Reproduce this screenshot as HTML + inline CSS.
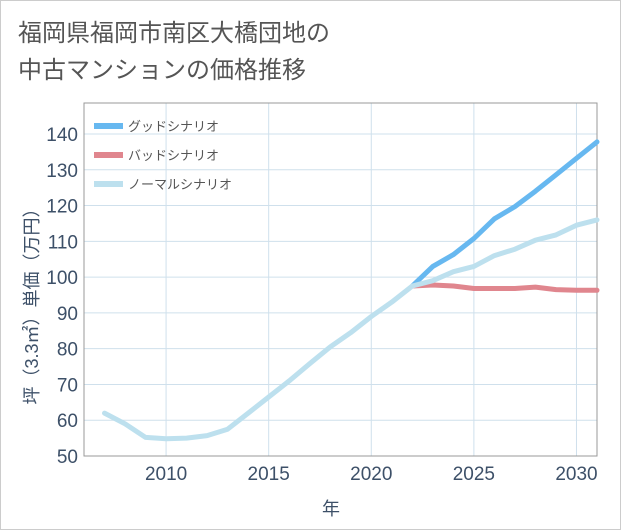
<!DOCTYPE html>
<html><head><meta charset="utf-8"><style>
body{margin:0;background:#fff;font-family:"Liberation Sans","Noto Sans CJK JP",sans-serif}
#wrap{position:relative;width:619px;height:528px;border:1px solid #ccc;background:#fff}
</style></head><body>
<div id="wrap">
<svg id="c" width="621" height="530" style="position:absolute;left:-1px;top:-1px"></svg>
</div>
<script>
const years=[2007,2008,2009,2010,2011,2012,2013,2014,2015,2016,2017,2018,2019,2020,2021,2022,2023,2024,2025,2026,2027,2028,2029,2030,2031];
const normal=[62,59,55.2,54.8,55,55.7,57.5,62,66.5,71,75.8,80.5,84.5,89,93,97.5,99,101.5,103,106,107.8,110.3,111.8,114.5,116];
const fYears=[2022,2023,2024,2025,2026,2027,2028,2029,2030,2031];
const good=[97.5,103,106.3,110.8,116.3,119.7,124,128.6,133.2,137.8];
const bad=[97.5,97.8,97.5,96.8,96.8,96.8,97.2,96.5,96.3,96.3];
const yTicks=[50,60,70,80,90,100,110,120,130,140];
const xTicks=[2010,2015,2020,2025,2030];
const L=84,R=597,T=103,B=456;
const x=v=>L+(v-2006)*(R-L)/25;
const y=v=>B-(v-50)*3.578;
const s=document.getElementById('c');const NS='http://www.w3.org/2000/svg';
function mk(t,a,txt){const e=document.createElementNS(NS,t);for(const k in a)e.setAttribute(k,a[k]);if(txt!=null)e.textContent=txt;s.appendChild(e);return e;}
function txt(x0,y0,t,sz,anc,name,extra){const e=mk('text',Object.assign({x:x0,y:y0,'font-size':sz,fill:'#555','text-anchor':anc||'start'},extra||{}),t);return e;}
txt(18,41,'福岡県福岡市南区大橋団地の',24,'start','title-line1');
txt(18,78,'中古マンションの価格推移',24,'start','title-line2');
yTicks.forEach(v=>{const l=mk('line',{x1:L,x2:R,y1:y(v),y2:y(v),stroke:'#cfe0ec','stroke-width':1});
txt(L-6,y(v)+7,String(v),19,'end','y-tick-label',{fill:'#3d5068'});});
xTicks.forEach(v=>{const l=mk('line',{x1:x(v),x2:x(v),y1:T,y2:B,stroke:'#cfe0ec','stroke-width':1});
txt(x(v),480,String(v),19,'middle','x-tick-label',{fill:'#3d5068'});});
const fr=mk('rect',{x:L,y:T,width:R-L,height:B-T,fill:'none',stroke:'#999','stroke-width':1});
txt(331,515,'年',18,'middle','x-axis-title',{fill:'#3d5068'});
txt(0,0,'坪（3.3㎡）単価（万円）',18,'middle','y-axis-title',{fill:'#3d5068',transform:'translate(38,302) rotate(-90)'});
function line(xs,vs,col,name){const d=xs.map((a,i)=>(i?'L':'M')+x(a).toFixed(1)+','+y(vs[i]).toFixed(1)).join('');const p=mk('path',{d:d,fill:'none',stroke:col,'stroke-width':5,'stroke-linejoin':'round','stroke-linecap':'round'});}
line(fYears,bad,'#e0868e','bad-scenario-line');
line(fYears,good,'#67b8f0','good-scenario-line');
line(years,normal,'#bde0ee','normal-scenario-line');
[['グッドシナリオ','#67b8f0'],['バッドシナリオ','#e0868e'],['ノーマルシナリオ','#bde0ee']].forEach((e,i)=>{const yy=126+i*29;
const r=mk('rect',{x:94,y:yy-3,width:29,height:6,fill:e[1]});
txt(128,yy+5,e[0],13,'start','legend-entry');});
</script>
</body></html>
